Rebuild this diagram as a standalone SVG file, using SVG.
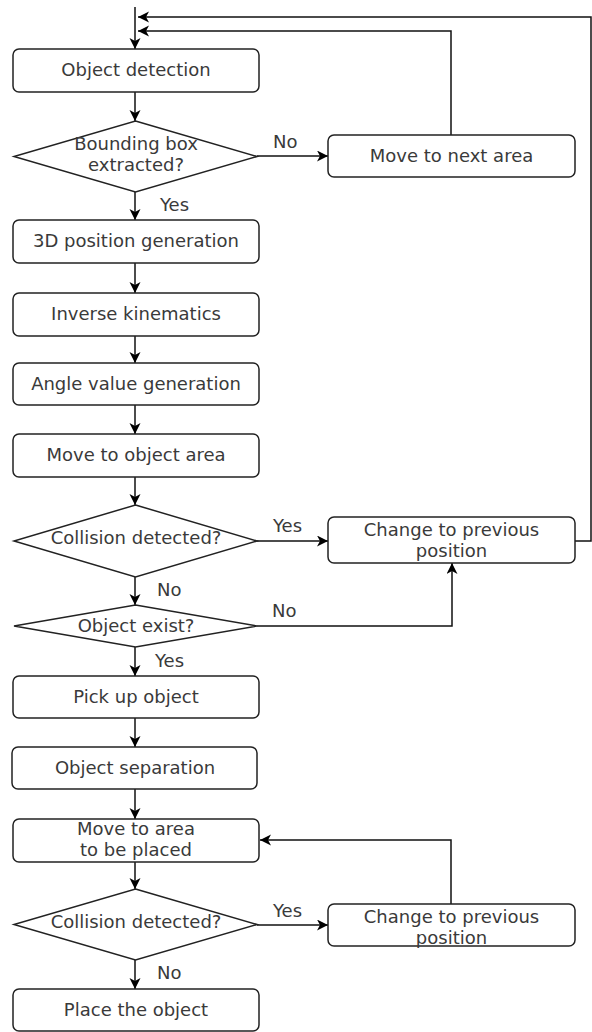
<svg xmlns="http://www.w3.org/2000/svg" width="592" height="1032" viewBox="0 0 592 1032">
<defs>
<marker id="ah" markerUnits="userSpaceOnUse" markerWidth="12" markerHeight="12" refX="11" refY="5.5" orient="auto">
<path d="M0,0 L11,5.5 L0,11 L3,5.5 Z" fill="#000"/>
</marker>
<style>
.box{fill:#fff;stroke:#222;stroke-width:1.5}
.t{font-family:"DejaVu Sans",sans-serif;font-size:18px;fill:#3a3a3a;text-anchor:middle}
.l{font-family:"DejaVu Sans",sans-serif;font-size:18px;fill:#3a3a3a}
.c{fill:none;stroke:#111;stroke-width:1.5}
.a{marker-end:url(#ah)}
</style>
</defs>
<rect width="592" height="1032" fill="#fff"/>
<g id="connectors">
<path class="c a" d="M135,7 V49"/>
<path class="c a" d="M135,92 V121"/>
<path class="c a" d="M135,192 V220"/>
<path class="c a" d="M135,263 V293"/>
<path class="c a" d="M135,336 V363"/>
<path class="c a" d="M135,405 V434"/>
<path class="c a" d="M135,477 V505"/>
<path class="c a" d="M135,577 V605"/>
<path class="c a" d="M135,647 V676"/>
<path class="c a" d="M135,718 V747"/>
<path class="c a" d="M135,789 V819"/>
<path class="c a" d="M135,862 V889"/>
<path class="c a" d="M135,960 V989"/>
<path class="c a" d="M257,156 H328"/>
<path class="c a" d="M451,135 V31 H138"/>
<path class="c a" d="M257,541 H328"/>
<path class="c a" d="M257,626 H452 V563"/>
<path class="c a" d="M575,541 H591 V17 H138"/>
<path class="c a" d="M257,925 H328"/>
<path class="c a" d="M451,904 V840 H260"/>
<text class="l" x="273" y="148">No</text>
<text class="l" x="160" y="211">Yes</text>
<text class="l" x="273" y="532">Yes</text>
<text class="l" x="157" y="596">No</text>
<text class="l" x="272" y="617">No</text>
<text class="l" x="155" y="667">Yes</text>
<text class="l" x="273" y="917">Yes</text>
<text class="l" x="157" y="979">No</text>
</g>
<g id="n1"><rect class="box" x="13" y="49" width="246" height="43" rx="6"/><text class="t" x="136" y="76">Object detection</text></g>
<g id="n2"><polygon class="box" points="135.5,121 257,156.5 135.5,192 14,156.5"/><text class="t" x="136" y="150">Bounding box</text><text class="t" x="136" y="171">extracted?</text></g>
<g id="n3"><rect class="box" x="328" y="135" width="247" height="42" rx="6"/><text class="t" x="451.5" y="162">Move to next area</text></g>
<g id="n4"><rect class="box" x="13" y="220" width="246" height="43" rx="6"/><text class="t" x="136" y="247">3D position generation</text></g>
<g id="n5"><rect class="box" x="13" y="293" width="246" height="43" rx="6"/><text class="t" x="136" y="320">Inverse kinematics</text></g>
<g id="n6"><rect class="box" x="13" y="363" width="246" height="42" rx="6"/><text class="t" x="136" y="390">Angle value generation</text></g>
<g id="n7"><rect class="box" x="13" y="434" width="246" height="43" rx="6"/><text class="t" x="136" y="461">Move to object area</text></g>
<g id="n8"><polygon class="box" points="135.5,505 257,541 135.5,577 14,541"/><text class="t" x="136" y="544">Collision detected?</text></g>
<g id="n9"><rect class="box" x="328" y="517" width="247" height="46" rx="6"/><text class="t" x="451.5" y="536">Change to previous</text><text class="t" x="451.5" y="557">position</text></g>
<g id="n10"><polygon class="box" points="135.5,605 257,626 135.5,647 14,626"/><text class="t" x="136" y="632">Object exist?</text></g>
<g id="n11"><rect class="box" x="13" y="676" width="246" height="42" rx="6"/><text class="t" x="136" y="703">Pick up object</text></g>
<g id="n12"><rect class="box" x="12" y="747" width="245" height="42" rx="6"/><text class="t" x="135" y="774">Object separation</text></g>
<g id="n13"><rect class="box" x="13" y="819" width="246" height="43" rx="6"/><text class="t" x="136" y="835">Move to area</text><text class="t" x="136" y="856">to be placed</text></g>
<g id="n14"><polygon class="box" points="135.5,889 257,924.5 135.5,960 14,924.5"/><text class="t" x="136" y="928">Collision detected?</text></g>
<g id="n15"><rect class="box" x="328" y="904" width="247" height="42" rx="6"/><text class="t" x="451.5" y="923">Change to previous</text><text class="t" x="451.5" y="944">position</text></g>
<g id="n16"><rect class="box" x="13" y="989" width="246" height="42" rx="6"/><text class="t" x="136" y="1016">Place the object</text></g>
</svg>
